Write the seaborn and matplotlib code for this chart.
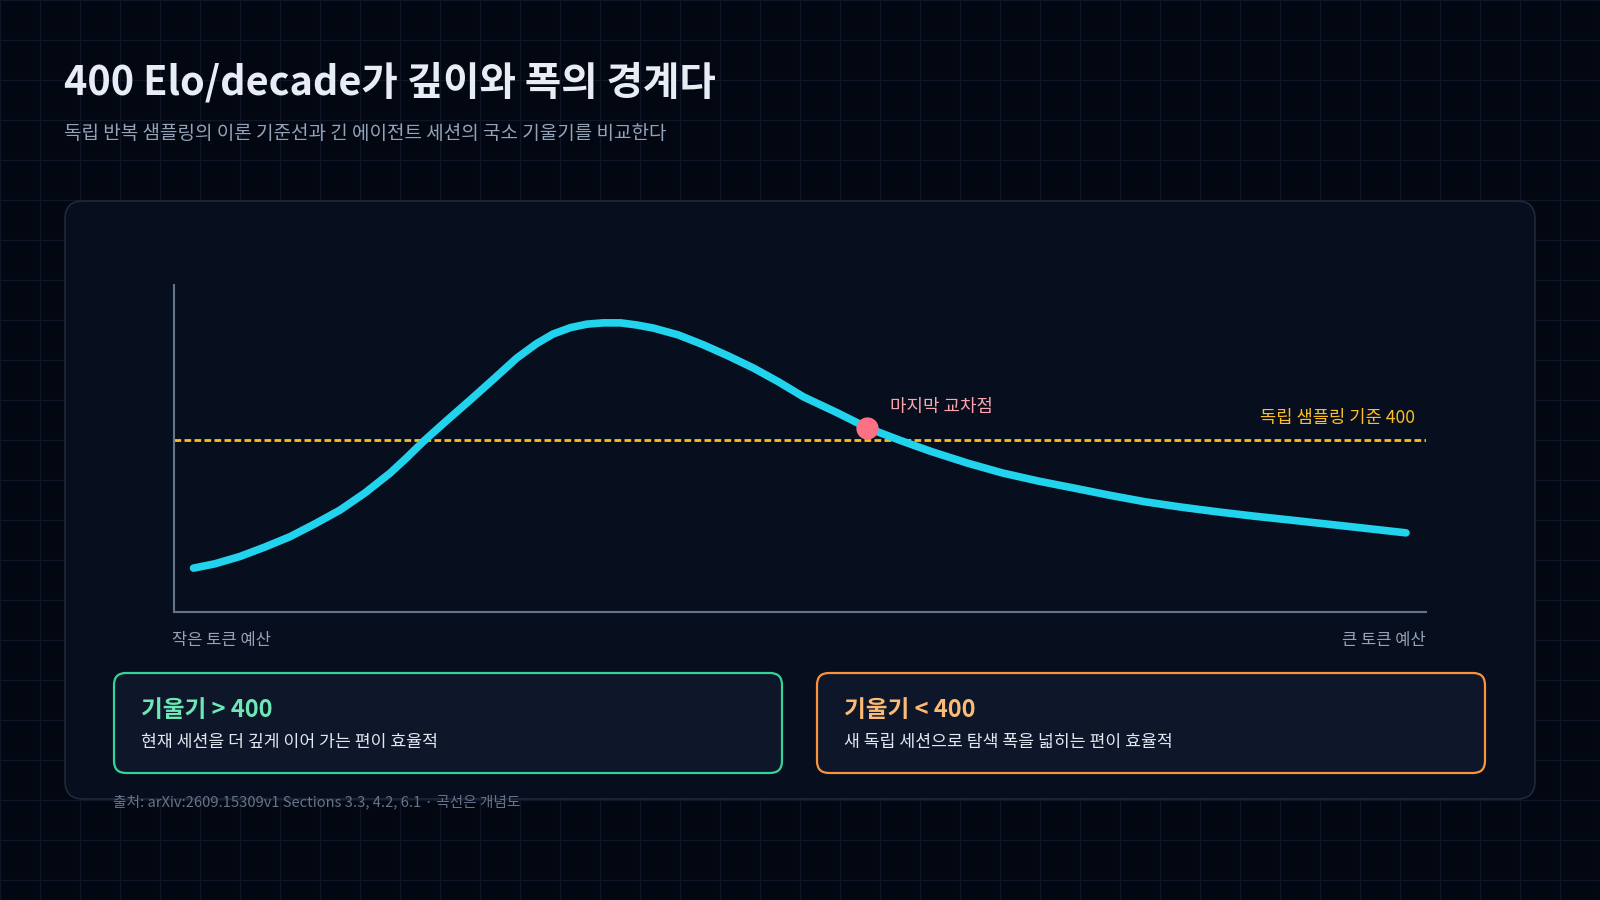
import seaborn as sns
import matplotlib.pyplot as plt
from matplotlib.patches import FancyBboxPatch

# 개념도 곡선 (x: 토큰 예산 0~100 상대 위치, y: 국소 기울기 Elo/decade)
budget = [1.6, 3.3, 5.3, 7.3, 9.3, 11.3, 13.3, 15.3, 17.3, 18.6, 19.9, 21.7,
          23.7, 25.7, 27.4, 29.0, 30.3, 31.7, 33.0, 34.3, 35.7, 37.0, 38.3,
          40.3, 42.3, 44.3, 46.3, 48.3, 50.3, 53.0, 55.4, 58.0, 60.5, 63.4,
          66.2, 69.1, 71.9, 74.8, 77.6, 80.4, 83.3, 86.2, 89.1, 91.9, 94.7, 98.4]
slope = [102, 112, 129, 151, 175, 205, 237, 277, 323, 358, 395, 442,
         493, 545, 590, 624, 646, 661, 669, 672, 672, 667, 660,
         644, 621, 595, 567, 535, 500, 463, 428, 399, 373, 346,
         323, 304, 288, 271, 256, 244, 233, 223, 214, 205, 196, 184]
baseline = 400
cross_x = 55.4
cross_y = 428

title = "400 Elo/decade가 깊이와 폭의 경계다"
subtitle = "독립 반복 샘플링의 이론 기준선과 긴 에이전트 세션의 국소 기울기를 비교한다"
x_labels = ["작은 토큰 예산", "큰 토큰 예산"]
baseline_label = "독립 샘플링 기준 400"
cross_label = "마지막 교차점"
box_titles = ["기울기 > 400", "기울기 < 400"]
box_texts = ["현재 세션을 더 깊게 이어 가는 편이 효율적",
             "새 독립 세션으로 탐색 폭을 넓히는 편이 효율적"]
footer = "출처: arXiv:2609.15309v1 Sections 3.3, 4.2, 6.1 · 곡선은 개념도"

BG = "#030712"
CARD = "#070e1d"

sns.set_theme(style="dark")
plt.rcParams['font.family'] = ['Noto Sans CJK KR', 'DejaVu Sans']

fig = plt.figure(figsize=(16, 9), dpi=100)
fig.patch.set_facecolor(BG)

# 배경 (픽셀 좌표)
bg = fig.add_axes([0, 0, 1, 1])
bg.set_xlim(0, 1600)
bg.set_ylim(900, 0)
bg.axis('off')
bg.set_facecolor(BG)
for v in range(0, 1601, 40):
    bg.axvline(v, color="#0f1627", lw=1, zorder=0)
for h in range(0, 901, 40):
    bg.axhline(h, color="#0f1627", lw=1, zorder=0)

bg.add_patch(FancyBboxPatch((65, 201), 1470, 598,
                            boxstyle="round,pad=0,rounding_size=18",
                            fc=CARD, ec="#1e293b", lw=1.2, zorder=1))

bg.text(64, 95, title, fontsize=28.5, fontweight='bold', color="#e8ecf5",
        va='baseline', zorder=3)
bg.text(64, 139, subtitle, fontsize=13.7, color="#94a3b8", va='baseline', zorder=3)

# 하단 박스
boxes = [(114, "#34d399", "#6ee7b7"), (817, "#fb923c", "#fdba74")]
for (bx, edge, tcol), bt, bb in zip(boxes, box_titles, box_texts):
    bg.add_patch(FancyBboxPatch((bx, 673), 668, 100,
                                boxstyle="round,pad=0,rounding_size=12",
                                fc="#0e1729", ec=edge, lw=1.6, zorder=2))
    bg.text(bx + 27, 717, bt, fontsize=17, fontweight='bold', color=tcol,
            va='baseline', zorder=3)
    bg.text(bx + 27, 747, bb, fontsize=12.4, color="#e2e8f0",
            va='baseline', zorder=3)

bg.text(113, 806, footer, fontsize=10.6, color="#64748b", va='baseline', zorder=4)

# 차트
ax = fig.add_axes([173.5 / 1600, 1 - 612 / 900, (1426 - 173.5) / 1600, (612 - 285) / 900])
ax.set_facecolor('none')
ax.set_xlim(0, 100)
ax.set_ylim(0, 760)

ax.axhline(baseline, color="#fbbf24", lw=2, linestyle=(0, (2.4, 1.2)), zorder=2)
sns.lineplot(x=budget, y=slope, ax=ax, color="#22d3ee", lw=5.5,
             solid_capstyle='round', solid_joinstyle='round', zorder=3)
ax.plot([cross_x], [cross_y], 'o', color="#fb7185", markersize=15, zorder=4)

ax.set_xticks([])
ax.set_yticks([])
ax.grid(False)
for s in ['top', 'right']:
    ax.spines[s].set_visible(False)
for s in ['left', 'bottom']:
    ax.spines[s].set_visible(True)
    ax.spines[s].set_color("#64748b")
    ax.spines[s].set_linewidth(1.5)

bg.text(890, 412, cross_label, fontsize=12.9, color="#fda4af", va='baseline', zorder=3)
bg.text(1415, 423, baseline_label, fontsize=12.7, color="#fbbf24", ha='right',
        va='baseline', zorder=3)
bg.text(172, 645, x_labels[0], fontsize=11.9, color="#94a3b8", va='baseline', zorder=3)
bg.text(1426, 645, x_labels[1], fontsize=11.9, color="#94a3b8", ha='right',
        va='baseline', zorder=3)

fig.savefig("out.png", dpi=100, facecolor=BG)
